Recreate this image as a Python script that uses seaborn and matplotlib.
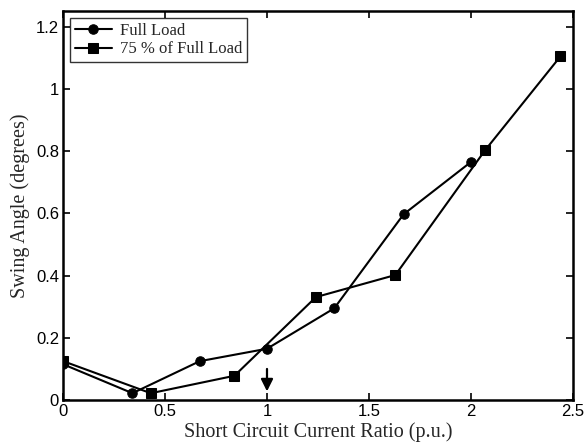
import matplotlib
matplotlib.use("Agg")
import matplotlib.pyplot as plt
import seaborn as sns
import pandas as pd

# Swing angle vs. short circuit current ratio
full_x = [0.0, 0.34, 0.67, 1.0, 1.33, 1.67, 2.0]
full_y = [0.115, 0.022, 0.125, 0.165, 0.295, 0.597, 0.765]

part_x = [0.0, 0.43, 0.84, 1.24, 1.63, 2.07, 2.44]
part_y = [0.125, 0.022, 0.078, 0.331, 0.402, 0.803, 1.105]

series_names = ["Full Load", "75 % of Full Load"]
x_ticks = [0, 0.5, 1, 1.5, 2, 2.5]
y_ticks = [0, 0.2, 0.4, 0.6, 0.8, 1, 1.2]

df = pd.concat([
    pd.DataFrame({"x": full_x, "y": full_y, "case": series_names[0]}),
    pd.DataFrame({"x": part_x, "y": part_y, "case": series_names[1]}),
])

sns.set_style("ticks")
plt.rcParams["font.family"] = ["Liberation Sans", "DejaVu Sans"]

fig = plt.figure(figsize=(5.85, 4.48), dpi=100)
ax = fig.add_axes([0.108, 0.107, 0.871, 0.868])

sns.lineplot(data=df, x="x", y="y", hue="case", style="case",
             markers={series_names[0]: "o", series_names[1]: "s"},
             dashes=False, palette={series_names[0]: "black", series_names[1]: "black"},
             sort=False, estimator=None, linewidth=1.5, markersize=6.8,
             markeredgecolor="black", ax=ax)

ax.set_xlim(0, 2.5)
ax.set_ylim(0, 1.25)
ax.set_xticks(x_ticks)
ax.set_xticklabels([f"{t:g}" for t in x_ticks])
ax.set_yticks(y_ticks)
ax.set_yticklabels([f"{t:g}" for t in y_ticks])
ax.tick_params(direction="in", top=True, right=True, length=5, width=1.2,
               labelsize=12, pad=3, colors="black")
for s in ax.spines.values():
    s.set_linewidth(1.8)
    s.set_color("black")

ax.set_xlabel("Short Circuit Current Ratio (p.u.)", family="Liberation Serif",
              fontsize=14.5, labelpad=2)
ax.set_ylabel("Swing Angle (degrees)", family="Liberation Serif",
              fontsize=14.5, labelpad=4)

# Marker for the nominal operating point
ax.annotate("", xy=(1.0, 0.028), xytext=(1.0, 0.10),
            arrowprops=dict(arrowstyle="-|>,head_length=0.6,head_width=0.3",
                            color="black", lw=1.6, mutation_scale=12,
                            shrinkA=0, shrinkB=0))

leg = ax.legend(loc="upper left", frameon=True, fancybox=False,
                edgecolor="black", prop={"family": "Liberation Serif", "size": 12},
                handlelength=2.2, borderpad=0.3, labelspacing=0.15,
                borderaxespad=0.4, handletextpad=0.5)
leg.get_frame().set_linewidth(1.0)

fig.savefig("out.png", dpi=100)
